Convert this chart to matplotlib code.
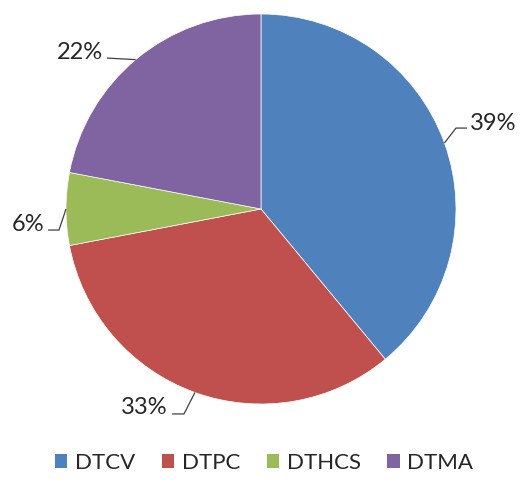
import numpy as np
import matplotlib.pyplot as plt
from matplotlib.patches import Patch

plt.rcParams['font.family'] = ['Lato', 'DejaVu Sans']

# data
categories = ['DTCV', 'DTPC', 'DTHCS', 'DTMA']
shares = [39, 33, 6, 22]
colors = ['#4F81BD', '#C0504D', '#9BBB59', '#8064A2']

# label layout: text position (data units, pie radius = 1), alignment,
# elbow of the leader line, anchor angle override (None -> wedge middle)
label_pos = [(1.072, 0.405), (-0.477, -1.051), (-1.113, -0.113), (-0.810, 0.769)]
label_ha = ['left', 'right', 'right', 'right']
elbows = [(1.000, 0.415), (-0.395, -1.051), (-1.036, -0.108), None]
line_ends = [(1.056, 0.415), (-0.456, -1.051), (-1.092, -0.108), (-0.790, 0.774)]
anchor_angle = [None, None, None, 130]

fig = plt.figure(figsize=(5.21, 4.99), dpi=100)
ax = fig.add_axes([66 / 521, 95 / 499, 390 / 521, 390 / 499])

wedges, _ = ax.pie(shares, colors=colors, startangle=90, counterclock=False,
                   wedgeprops=dict(edgecolor='white', linewidth=0.5))
ax.set_aspect('auto')
ax.set_xlim(-1, 1)
ax.set_ylim(-1, 1)

for i, w in enumerate(wedges):
    ang = anchor_angle[i]
    if ang is None:
        ang = (w.theta1 + w.theta2) / 2
    a = np.deg2rad(ang)
    xs = [np.cos(a)]
    ys = [np.sin(a)]
    if elbows[i] is not None:
        xs.append(elbows[i][0])
        ys.append(elbows[i][1])
    xs.append(line_ends[i][0])
    ys.append(line_ends[i][1])
    ax.plot(xs, ys, color='#404040', lw=0.9, clip_on=False, solid_capstyle='butt')
    ax.text(label_pos[i][0], label_pos[i][1], f'{shares[i]}%', ha=label_ha[i],
            va='baseline', fontsize=17, color='#262626', clip_on=False)

handles = [Patch(facecolor=c, edgecolor='none') for c in colors]
fig.legend(handles, categories, loc='center', bbox_to_anchor=(264 / 521, 1 - 463 / 499),
           ncol=4, frameon=False, fontsize=16, handlelength=0.55, handleheight=0.55,
           handletextpad=0.35, columnspacing=1.2, labelcolor='#262626')

fig.savefig('out.png', dpi=100)
